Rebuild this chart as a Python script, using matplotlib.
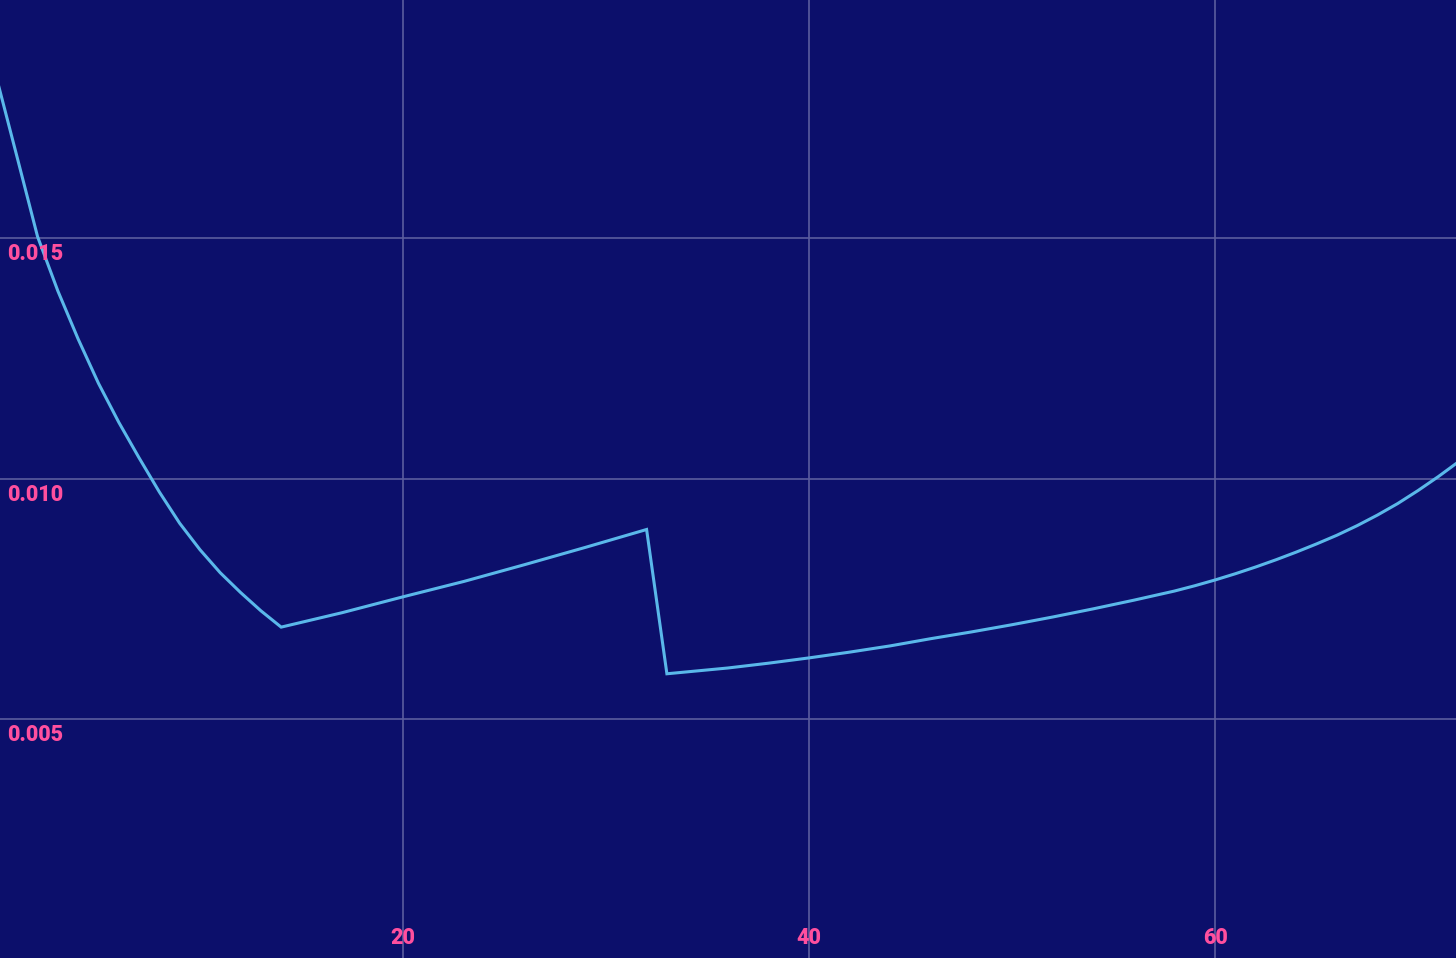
import matplotlib
matplotlib.use("Agg")
import matplotlib.pyplot as plt
import matplotlib.transforms as mtransforms

# Curve values (three pieces)
x_left = [0, 1, 2, 3, 4, 5, 6, 7, 8, 9, 10, 11, 12, 13, 14]
y_left = [0.01830, 0.01667, 0.01503, 0.01390, 0.01290, 0.01198, 0.01117,
          0.01043, 0.00972, 0.00907, 0.00852, 0.00804, 0.00763, 0.00725, 0.00691]

x_mid = [17, 20, 23, 26, 29, 32]
y_mid = [0.00721, 0.00754, 0.00786, 0.00821, 0.00857, 0.00894]

x_right = [33, 34, 36, 38, 40, 42, 44, 46, 48, 50, 52, 54, 56, 58, 59, 60,
           61, 62, 63, 64, 65, 66, 67, 68, 69, 70, 71, 72]
y_right = [0.00594, 0.00598, 0.00606, 0.00616, 0.00627, 0.00639, 0.00652,
           0.00667, 0.00681, 0.00696, 0.00712, 0.00729, 0.00747, 0.00766,
           0.00777, 0.00789, 0.00802, 0.00816, 0.00831, 0.00847, 0.00864,
           0.00882, 0.00902, 0.00924, 0.00948, 0.00975, 0.01004, 0.01035]

x_ticks = [20, 40, 60]
y_ticks = [0.005, 0.010, 0.015]
y_tick_labels = ["0.005", "0.010", "0.015"]

BG = "#0c0f6b"
LINE = "#5ab8ea"
GRID = "#5b5d9e"
LABEL = "#ff4f9e"

xs = x_left + x_mid + x_right
ys = y_left + y_mid + y_right

fig = plt.figure(figsize=(14.56, 9.58), dpi=100, facecolor=BG)
ax = fig.add_axes([0, 0, 1, 1])
ax.set_facecolor(BG)

ax.plot(xs, ys, color=LINE, linewidth=2.2, solid_joinstyle="miter", zorder=3)

ax.set_xlim(0.15, 71.87)
ax.set_ylim(0.00003, 0.01995)

ax.set_xticks(x_ticks)
ax.set_yticks(y_ticks)
ax.grid(True, color=GRID, linewidth=1.2)
ax.tick_params(length=0, labelbottom=False, labelleft=False)
for s in ax.spines.values():
    s.set_visible(False)

font = dict(family=["Roboto", "DejaVu Sans"], fontweight="black", fontsize=15.5, color=LABEL)

# y labels sit inside the plot, just under each grid line
ytrans = mtransforms.offset_copy(ax.get_yaxis_transform(), fig=fig, x=0, y=-5, units="dots")
for v, lab in zip(y_ticks, y_tick_labels):
    ax.text(0.0052, v, lab, transform=ytrans, ha="left", va="top", **font)

# x labels sit inside, near the bottom edge
xtrans = mtransforms.offset_copy(ax.get_xaxis_transform(), fig=fig, x=0, y=9, units="dots")
for v in x_ticks:
    ax.text(v, 0, str(v), transform=xtrans, ha="center", va="bottom", **font)

fig.savefig("out.png", dpi=100, facecolor=BG)
